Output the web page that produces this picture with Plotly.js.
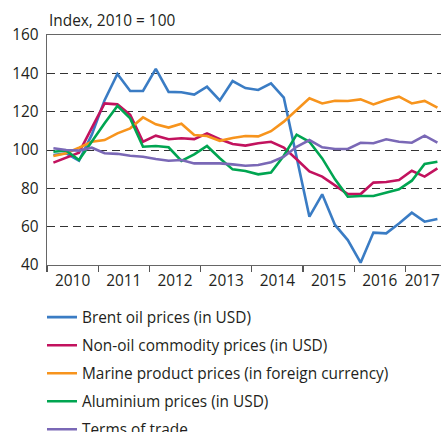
<!DOCTYPE html>
<html>
<head>
<meta charset="utf-8">
<script src="https://cdn.plot.ly/plotly-3.0.1.min.js"></script>
<style>html,body{margin:0;padding:0;background:#fff;overflow:hidden;}#chart{width:441px;height:432px;}</style>
</head>
<body>
<div id="chart"></div>
<script>
// Quarterly observations, 2010 Q1 – 2017 Q3
const quarters = ["2010Q1","2010Q2","2010Q3","2010Q4","2011Q1","2011Q2","2011Q3","2011Q4",
  "2012Q1","2012Q2","2012Q3","2012Q4","2013Q1","2013Q2","2013Q3","2013Q4",
  "2014Q1","2014Q2","2014Q3","2014Q4","2015Q1","2015Q2","2015Q3","2015Q4",
  "2016Q1","2016Q2","2016Q3","2016Q4","2017Q1","2017Q2","2017Q3"];

const brent = [97.4, 98.3, 94.4, 108, 126, 139.7, 130.8, 130.8, 142.3, 130.3, 130.1, 128.9, 133, 125.9, 136, 132.3,
  131.3, 134.8, 127.3, 96, 65.2, 76.9, 60.9, 53, 41.2, 56.9, 56.5, 61.7, 67.3, 62.6, 64];
const nonOil = [93.4, 96.2, 98.6, 111.5, 124.3, 123.8, 118.3, 104.3, 107.5, 105.6, 106.1, 105.7, 108.7, 105.6, 103.1, 102.3,
  103.5, 104.3, 101.3, 95.2, 88.8, 86.1, 81.7, 77, 77, 83, 83.3, 84.3, 89.2, 86.1, 90.4];
const marine = [96.9, 98.3, 101.2, 104.3, 105.2, 108.7, 111.3, 117, 113.4, 111.7, 113.7, 107.8, 107.3, 104.8, 106.3, 107.3,
  107.1, 109.8, 114.8, 120.9, 127, 124.3, 125.7, 125.6, 126.4, 123.8, 126.1, 127.8, 124.3, 125.6, 122.1];
const aluminium = [99.1, 99.7, 94.8, 104.5, 114, 123, 116.5, 101.7, 102.1, 101.4, 94.3, 97.7, 102.1, 95.7, 89.9, 89,
  87.3, 88.3, 97, 108, 104.3, 95.6, 84.7, 75.6, 76, 76, 77.7, 79.5, 84, 92.7, 93.9];
const termsOfTrade = [100.9, 100, 99.7, 101.2, 98.3, 98, 97, 96.5, 95.3, 94.4, 94.8, 93, 93, 93, 92.5, 91.8,
  92.2, 93.6, 96.5, 101.7, 105.2, 101.4, 100.5, 100.5, 103.8, 103.5, 105.6, 104.3, 103.8, 107.5, 103.8];

const seriesNames = ["Brent oil prices (in USD)", "Non-oil commodity prices (in USD)",
  "Marine product prices (in foreign currency)", "Aluminium prices (in USD)", "Terms of trade"];
const seriesColors = ["#3a7cc4", "#c2125e", "#f7941d", "#00a551", "#7a68b6"];
const yearTicks = [2010, 2011, 2012, 2013, 2014, 2015, 2016, 2017];
const yearLabels = ["2010", "2011", "2012", "2013", "2014", "2015", "2016", "2017"];
const yearLabelPos = [2010.5, 2011.5, 2012.5, 2013.5, 2014.5, 2015.5, 2016.5, 2017.33];
const yTicks = [40, 60, 80, 100, 120, 140, 160];
const xRange = [2010, 2017.695];
const yRange = [40, 160];

// quarter string -> decimal year at the middle of the quarter
const xq = quarters.map(q => +q.slice(0, 4) + (+q.slice(5) - 0.5) / 4);

const allSeries = [brent, nonOil, marine, aluminium, termsOfTrade];
const traces = allSeries.map((s, k) => ({
  x: xq, y: s, type: "scatter", mode: "lines", name: seriesNames[k],
  legendgroup: "g" + k,
  line: {color: seriesColors[k], width: 2.6},
  hoverinfo: "skip"
}));
// invisible helper trace so the year-label axis (xaxis2) is drawn
traces.push({
  x: yearLabelPos, y: yearLabelPos.map(() => null), xaxis: "x2", yaxis: "y",
  type: "scatter", mode: "none", showlegend: false, hoverinfo: "skip"
});

const font = {family: "Open Sans, Noto Sans, sans-serif", size: 15.4, color: "#231f20"};

const layout = {
  width: 441, height: 432,
  margin: {l: 47, r: 0, t: 35, b: 167, autoexpand: false},
  paper_bgcolor: "#fff", plot_bgcolor: "#fff",
  font: font,
  showlegend: true,
  legend: {
    x: -0.0127, xanchor: "left", y: -0.155, yanchor: "top",
    traceorder: "grouped", tracegroupgap: 5.0,
    font: font, bgcolor: "rgba(0,0,0,0)"
  },
  xaxis: {
    range: xRange, tickmode: "array", tickvals: yearTicks, showticklabels: false,
    ticks: "outside", ticklen: 6, tickwidth: 1.3, tickcolor: "#555",
    showline: true, linecolor: "#666", linewidth: 1.3, mirror: true,
    showgrid: false, zeroline: false, fixedrange: true
  },
  xaxis2: {
    range: xRange, overlaying: "x", anchor: "y", side: "bottom",
    tickmode: "array", tickvals: yearLabelPos, ticktext: yearLabels,
    ticks: "", showline: false, showgrid: false, zeroline: false,
    ticklabelstandoff: 5, tickfont: font, fixedrange: true
  },
  yaxis: {
    range: yRange, tickmode: "array", tickvals: yTicks,
    ticks: "", showline: true, linecolor: "#666", linewidth: 1.3,
    showgrid: true, gridcolor: "#333", gridwidth: 1, griddash: "8px,5px",
    zeroline: false, tickfont: font, ticklabelstandoff: 4, fixedrange: true
  },
  annotations: [{
    text: "Index, 2010 = 100", xref: "paper", yref: "paper", x: 0, y: 1,
    xanchor: "left", yanchor: "bottom", xshift: 0, yshift: 2,
    showarrow: false, font: font
  }]
};

Plotly.newPlot("chart", traces, layout, {staticPlot: true, displayModeBar: false});
</script>
</body>
</html>
